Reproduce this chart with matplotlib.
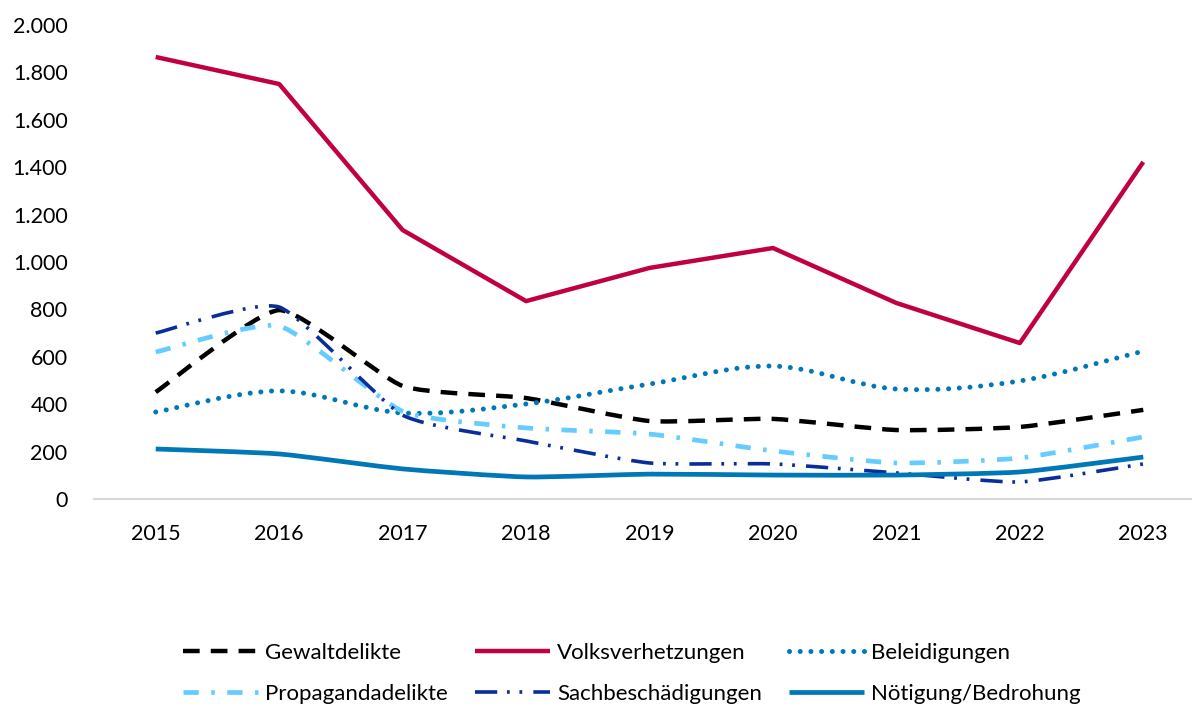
import matplotlib
matplotlib.use("Agg")
import matplotlib.pyplot as plt
from matplotlib.path import Path
from matplotlib.patches import PathPatch
from matplotlib.lines import Line2D
import numpy as np

years = ["2015", "2016", "2017", "2018", "2019", "2020", "2021", "2022", "2023"]
gewalt = [451, 797, 477, 426, 329, 338, 291, 304, 376]
volks = [1865, 1751, 1135, 835, 975, 1059, 827, 658, 1422]
beleid = [367, 456, 363, 401, 485, 561, 464, 498, 624]
propaganda = [620, 730, 370, 300, 274, 203, 152, 173, 262]
sach = [700, 810, 354, 245, 152, 148, 110, 72, 148]
noetigung = [211, 190, 127, 93, 105, 101, 101, 114, 177]
y_ticks = [0, 200, 400, 600, 800, 1000, 1200, 1400, 1600, 1800, 2000]

plt.rcParams['font.family'] = ['Lato', 'DejaVu Sans']
plt.rcParams['lines.scale_dashes'] = False

fig = plt.figure(figsize=(11.92, 7.07), dpi=100)
ax = fig.add_axes([94/1192, 208/707, (1192-94)/1192, (499-25)/707])
x = np.arange(len(years))
ax.set_xlim(-0.5, 8.5 - (1205-1192)/123.4)
ax.set_ylim(0, 2000)


def smooth_path(xs, ys, k):
    pts = list(zip(xs, ys))
    verts = [pts[0]]
    codes = [Path.MOVETO]
    n = len(pts)
    for i in range(n - 1):
        p0 = pts[i - 1] if i > 0 else pts[i]
        p1 = pts[i]
        p2 = pts[i + 1]
        p3 = pts[i + 2] if i + 2 < n else pts[i + 1]
        if k > 0:
            c1 = (p1[0] + (p2[0] - p0[0]) * k, p1[1] + (p2[1] - p0[1]) * k)
            c2 = (p2[0] - (p3[0] - p1[0]) * k, p2[1] - (p3[1] - p1[1]) * k)
            verts += [c1, c2, p2]
            codes += [Path.CURVE4] * 3
        else:
            verts.append(p2)
            codes.append(Path.LINETO)
    return Path(verts, codes)


series = {
    "Gewaltdelikte": (gewalt, dict(color="#000000", lw=3.2, ls=(0, (12, 8)), capstyle="butt"), 0.09),
    "Volksverhetzungen": (volks, dict(color="#C10040", lw=3.2, ls="-", capstyle="butt"), 0.0),
    "Beleidigungen": (beleid, dict(color="#0077B6", lw=3.6, ls=(0, (0.01, 7.7)), capstyle="round"), 0.16),
    "Propagandadelikte": (propaganda, dict(color="#66CCFF", lw=3.4, ls=(0, (11, 9, 2.5, 9)), capstyle="butt"), 0.09),
    "Sachbeschädigungen": (sach, dict(color="#0A2D9C", lw=2.6, ls=(0, (16, 7, 2, 7, 2, 8)), capstyle="butt"), 0.09),
    "Nötigung/Bedrohung": (noetigung, dict(color="#0077B6", lw=3.4, ls="-", capstyle="butt"), 0.09),
}

handles = {}
for label, (vals, st, k) in series.items():
    path = smooth_path(x, vals, k)
    patch = PathPatch(path, fill=False, edgecolor=st["color"], linewidth=st["lw"],
                      linestyle=st["ls"], capstyle=st["capstyle"], joinstyle="round")
    ax.add_patch(patch)
    handles[label] = Line2D([], [], color=st["color"], lw=st["lw"], ls=st["ls"],
                            dash_capstyle=st["capstyle"], solid_capstyle="butt", label=label)

ax.set_xticks(x)
ax.set_xticklabels(years)
ax.set_yticks(y_ticks)
ax.set_yticklabels([f"{v:,}".replace(",", ".") for v in y_ticks])
ax.tick_params(axis="both", length=0, labelsize=15.5, colors="#000000")
ax.tick_params(axis="x", pad=18)
ax.tick_params(axis="y", pad=19)
for s in ["top", "right", "left"]:
    ax.spines[s].set_visible(False)
ax.spines["bottom"].set_color("#D9D9D9")
ax.spines["bottom"].set_linewidth(1.5)
ax.spines["bottom"].set_clip_on(False)

order = ["Gewaltdelikte", "Propagandadelikte", "Volksverhetzungen",
         "Sachbeschädigungen", "Beleidigungen", "Nötigung/Bedrohung"]
fig.legend(handles=[handles[o] for o in order], loc="center", bbox_to_anchor=(0.53, 0.048), ncol=3,
           frameon=False, fontsize=16, handlelength=3.4, handletextpad=0.3,
           columnspacing=1.2, labelspacing=0.95)

fig.savefig("out.png", dpi=100)
